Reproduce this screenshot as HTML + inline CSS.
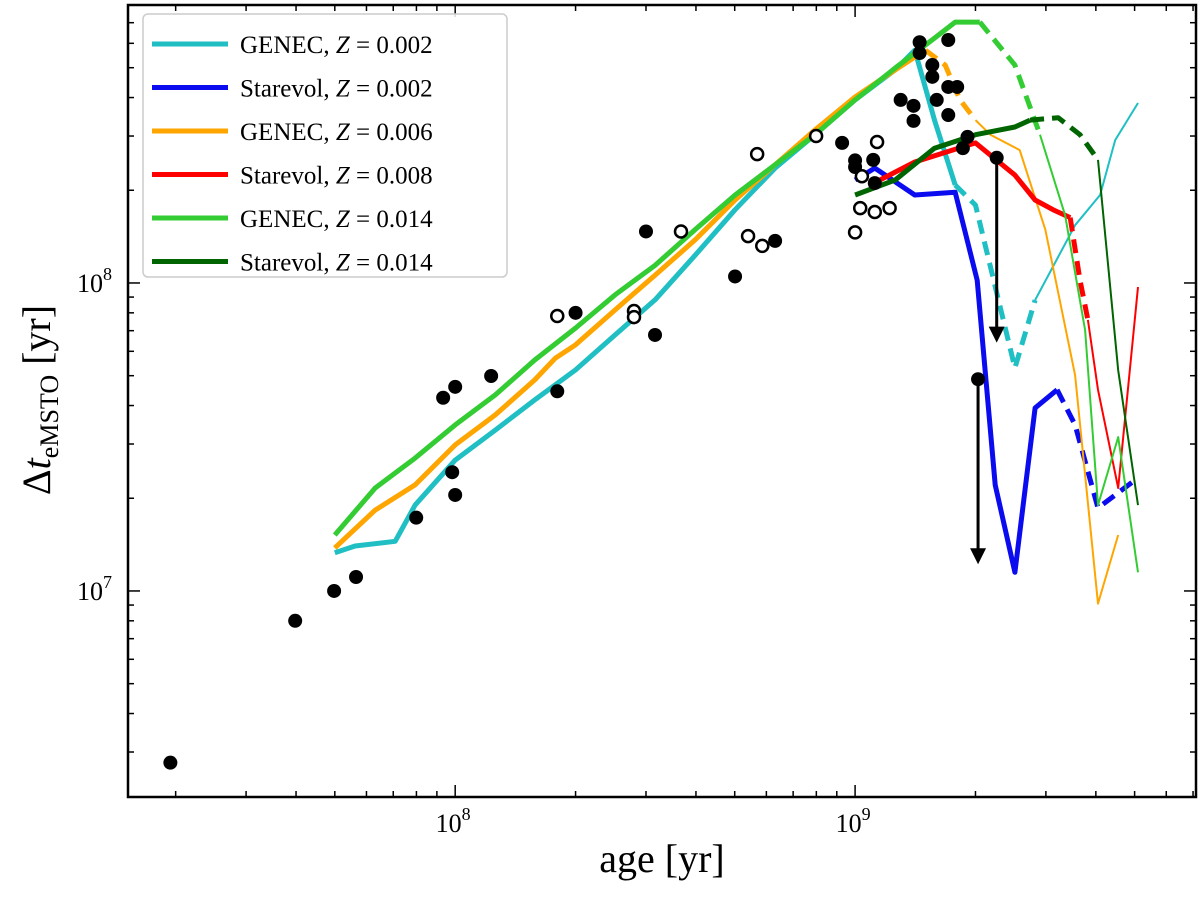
<!DOCTYPE html>
<html><head><meta charset="utf-8"><style>
body{margin:0;background:#fff;}
svg{display:block;font-family:"Liberation Serif",serif;}
</style></head><body>
<svg id="chart" width="1200" height="907" xmlns="http://www.w3.org/2000/svg">
<rect x="0" y="0" width="1200" height="907" fill="#fff"/>
<g id="marks"></g>
<g id="axes"></g>
<g id="legend"></g>
<text x="662" y="872" font-size="40" text-anchor="middle" font-family="Liberation Serif, serif">age [yr]</text>
<text transform="translate(50,400) rotate(-90)" font-size="40" text-anchor="middle" font-family="Liberation Serif, serif">Δ<tspan font-style="italic">t</tspan><tspan font-size="26" dy="8">eMSTO</tspan><tspan dy="-8"> [yr]</tspan></text>
</svg>
<script>
// axis config
const xDomain=[1.52e7,7.12e9], yDomain=[2.143e6,7.99e8];
const xTickLabels=[{v:1e8,e:"8"},{v:1e9,e:"9"}];
const yTickLabels=[{v:1e7,e:"7"},{v:1e8,e:"8"}];
// data: filled observations
const filledAge=[1.94e7,3.98e7,4.98e7,5.65e7,7.99e7,9.33e7,1e8,9.83e7,1e8,1.23e8,1.8e8,2.0e8,3.0e8,3.16e8,5.01e8,6.31e8,9.28e8,1e9,1e9,1.11e9,1.12e9,1.30e9,1.40e9,1.40e9,1.45e9,1.45e9,1.56e9,1.56e9,1.6e9,1.71e9,1.71e9,1.71e9,1.8e9,1.86e9,1.91e9,2.26e9,2.03e9];
const filledDt=[2.77e6,8.0e6,1.0e7,1.11e7,1.73e7,4.24e7,4.6e7,2.43e7,2.05e7,4.99e7,4.45e7,8.0e7,1.47e8,6.78e7,1.05e8,1.37e8,2.85e8,2.5e8,2.38e8,2.51e8,2.11e8,3.93e8,3.76e8,3.36e8,6.05e8,5.58e8,5.1e8,4.67e8,3.93e8,6.15e8,4.33e8,3.51e8,4.33e8,2.74e8,2.98e8,2.55e8,4.87e7];
// open observations
const openAge=[1.8e8,2.80e8,2.80e8,3.67e8,5.4e8,5.69e8,5.86e8,7.99e8,1e9,1.03e9,1.04e9,1.12e9,1.135e9,1.22e9];
const openDt=[7.81e7,8.11e7,7.75e7,1.47e8,1.42e8,2.62e8,1.32e8,3.0e8,1.46e8,1.75e8,2.22e8,1.7e8,2.87e8,1.75e8];
// upper-limit arrows
const arrowAge=[2.26e9,2.03e9], arrowFrom=[2.55e8,4.87e7], arrowTo=[6.5e7,1.24e7];

const gcAge=[5e7,5.62e7,7.08e7,7.94e7,1e8,1.26e8,1.58e8,2e8,2.51e8,3.16e8,3.98e8,5.01e8,6.31e8,7.94e8,1e9,1.26e9,1.41e9,1.58e9,1.78e9,2e9,2.51e9,2.82e9,3.55e9,4.1e9,4.47e9,5.1e9];
const gcDt=[1.33e7,1.40e7,1.45e7,1.9e7,2.66e7,3.33e7,4.17e7,5.22e7,6.78e7,8.81e7,1.23e8,1.73e8,2.36e8,3.03e8,3.93e8,4.92e8,5.7e8,3.38e8,2.08e8,1.79e8,5.3e7,8.8e7,1.54e8,1.93e8,2.91e8,3.84e8];
const gcStyle=[18,21];
const goAge=[5e7,6.31e7,7.94e7,1e8,1.26e8,1.58e8,1.78e8,2e8,2.51e8,3.16e8,3.98e8,5.01e8,6.31e8,7.94e8,1e9,1.26e9,1.5e9,1.68e9,1.83e9,2e9,2.18e9,2.58e9,2.99e9,3.55e9,4.05e9,4.55e9];
const goDt=[1.38e7,1.83e7,2.21e7,2.98e7,3.73e7,4.84e7,5.7e7,6.3e7,8.17e7,1.06e8,1.38e8,1.86e8,2.42e8,3.14e8,4.02e8,4.92e8,5.7e8,5.1e8,3.93e8,3.38e8,3.03e8,2.7e8,1.49e8,5.02e7,9.1e6,1.52e7];
const goStyle=[16,19];
const ggAge=[5e7,6.31e7,7.94e7,1e8,1.26e8,1.58e8,2e8,2.51e8,3.16e8,3.98e8,5.01e8,6.31e8,7.94e8,1e9,1.26e9,1.58e9,1.78e9,2.05e9,2.51e9,2.9e9,3.35e9,3.76e9,4.05e9,4.55e9,5.1e9];
const ggDt=[1.52e7,2.16e7,2.7e7,3.46e7,4.33e7,5.62e7,7.14e7,9.15e7,1.14e8,1.49e8,1.93e8,2.42e8,3.03e8,3.93e8,4.99e8,6.24e8,7.03e8,7.03e8,5.1e8,3.03e8,1.66e8,7.03e7,1.9e7,3.16e7,1.15e7];
const ggStyle=[17,19];
const sbAge=[1e9,1.12e9,1.41e9,1.78e9,2.02e9,2.24e9,2.51e9,2.82e9,3.2e9,3.55e9,4.05e9,5.1e9];
const sbDt=[2.16e8,2.36e8,1.93e8,1.97e8,1.02e8,2.21e7,1.15e7,3.93e7,4.5e7,3.46e7,1.86e7,2.33e7];
const sbStyle=[8,11];
const srAge=[1.09e9,1.41e9,2e9,2.51e9,2.82e9,3.15e9,3.45e9,3.65e9,3.82e9,4.05e9,4.55e9,5.1e9];
const srDt=[2.08e8,2.47e8,2.85e8,2.24e8,1.86e8,1.72e8,1.63e8,1.02e8,7.59e7,4.5e7,2.16e7,9.7e7];
const srStyle=[6,8];
const sdAge=[1e9,1.26e9,1.58e9,2e9,2.51e9,2.74e9,3.22e9,3.65e9,4.05e9,4.55e9,5.1e9];
const sdDt=[1.93e8,2.16e8,2.74e8,3.03e8,3.21e8,3.38e8,3.44e8,3.03e8,2.51e8,5.2e7,1.9e7];
const sdStyle=[5,8];

const L=128,R=1196,T=5,B=797;
const lx=v=>L+(Math.log10(v)-Math.log10(xDomain[0]))/(Math.log10(xDomain[1])-Math.log10(xDomain[0]))*(R-L);
const ly=v=>B-(Math.log10(v)-Math.log10(yDomain[0]))/(Math.log10(yDomain[1])-Math.log10(yDomain[0]))*(B-T);
const NS="http://www.w3.org/2000/svg";
function mk(tag,attrs,parent){const e=document.createElementNS(NS,tag);for(const k in attrs)e.setAttribute(k,attrs[k]);parent.appendChild(e);return e;}
const marks=document.getElementById('marks'),axes=document.getElementById('axes'),leg=document.getElementById('legend');

const series=[
 {name:'genec-z0002',a:gcAge,d:gcDt,s:gcStyle,c:'#1fbfc4',label:'GENEC',z:'0.002'},
 {name:'starevol-z0002',a:sbAge,d:sbDt,s:sbStyle,c:'#0b0bf0',label:'Starevol',z:'0.002'},
 {name:'genec-z0006',a:goAge,d:goDt,s:goStyle,c:'#ffa500',label:'GENEC',z:'0.006'},
 {name:'starevol-z0008',a:srAge,d:srDt,s:srStyle,c:'#ff0000',label:'Starevol',z:'0.008'},
 {name:'genec-z0014',a:ggAge,d:ggDt,s:ggStyle,c:'#33cc33',label:'GENEC',z:'0.014'},
 {name:'starevol-z0014',a:sdAge,d:sdDt,s:sdStyle,c:'#006400',label:'Starevol',z:'0.014'}
];
function pts(a,d,i0,i1){let p=[];for(let i=i0;i<=i1&&i<a.length;i++)p.push(lx(a[i]).toFixed(1)+','+ly(d[i]).toFixed(1));return p.join(' ');}
series.forEach(s=>{
  const n=s.a.length-1;
  const segs=[[0,s.s[0],5,''],[s.s[0],s.s[1],5,'14,8'],[s.s[1],n,2,'']];
  segs.forEach((g,k)=>{
    if(g[1]<=g[0])return;
    const el=mk('polyline',{points:pts(s.a,s.d,g[0],g[1]),fill:'none',stroke:s.c,'stroke-width':g[2],'stroke-linejoin':'round'},marks);
    if(g[3])el.setAttribute('stroke-dasharray',g[3]);
    
    
  });
});
filledAge.forEach((a,i)=>{
  const c=mk('circle',{cx:lx(a),cy:ly(filledDt[i]),r:7,fill:'#000'},marks);
  
  
});
openAge.forEach((a,i)=>{
  const c=mk('circle',{cx:lx(a),cy:ly(openDt[i]),r:6,fill:'#fff',stroke:'#000','stroke-width':2.5},marks);
  
  
});
arrowAge.forEach((a,i)=>{
  const x=lx(a),y0=ly(arrowFrom[i]),y1=ly(arrowTo[i]);
  const l=mk('line',{x1:x,y1:y0,x2:x,y2:y1-12,stroke:'#000','stroke-width':3},marks);
  
  
  const h=mk('polygon',{points:`${x-8},${y1-14} ${x+8},${y1-14} ${x},${y1+2}`,fill:'#000'},marks);
  
  
});
const fr=mk('rect',{x:L,y:T,width:R-L,height:B-T,fill:'none',stroke:'#000','stroke-width':2.5},axes);


for(let e=7;e<=9;e++)for(let m=1;m<=9;m++){const v=m*Math.pow(10,e);if(v<xDomain[0]||v>xDomain[1])continue;const x=lx(v),len=m==1?12:6;
 mk('line',{x1:x,y1:B,x2:x,y2:B-len,stroke:'#000','stroke-width':1.5},axes);mk('line',{x1:x,y1:T,x2:x,y2:T+len,stroke:'#000','stroke-width':1.5},axes);}
for(let e=6;e<=8;e++)for(let m=1;m<=9;m++){const v=m*Math.pow(10,e);if(v<yDomain[0]||v>yDomain[1])continue;const y=ly(v),len=m==1?12:6;
 mk('line',{x1:L,y1:y,x2:L+len,y2:y,stroke:'#000','stroke-width':1.5},axes);mk('line',{x1:R,y1:y,x2:R-len,y2:y,stroke:'#000','stroke-width':1.5},axes);}
xTickLabels.forEach(t=>{
  const tx=mk('text',{x:lx(t.v)-2,y:832,'font-size':26,'text-anchor':'middle'},axes);
  tx.innerHTML='10<tspan dy="-12" font-size="18">'+t.e+'</tspan>';
  
  
});
yTickLabels.forEach(t=>{
  const tx=mk('text',{x:112,y:ly(t.v)+9,'font-size':26,'text-anchor':'end'},axes);
  tx.innerHTML='10<tspan dy="-12" font-size="18">'+t.e+'</tspan>';
  
  
});
const lb=mk('rect',{x:143,y:14,width:364,height:263,rx:5,fill:'#fff','fill-opacity':0.85,stroke:'#ccc','stroke-width':1.5},leg);


series.forEach((s,i)=>{
  const y=44+i*43.5;
  const ln=mk('line',{x1:152,y1:y,x2:228,y2:y,stroke:s.c,'stroke-width':5},leg);
  
  
  const t=mk('text',{x:240,y:y+9,'font-size':25},leg);
  t.innerHTML=s.label+', <tspan font-style="italic">Z</tspan> = '+s.z;
  
  
});
</script>
</body></html>
